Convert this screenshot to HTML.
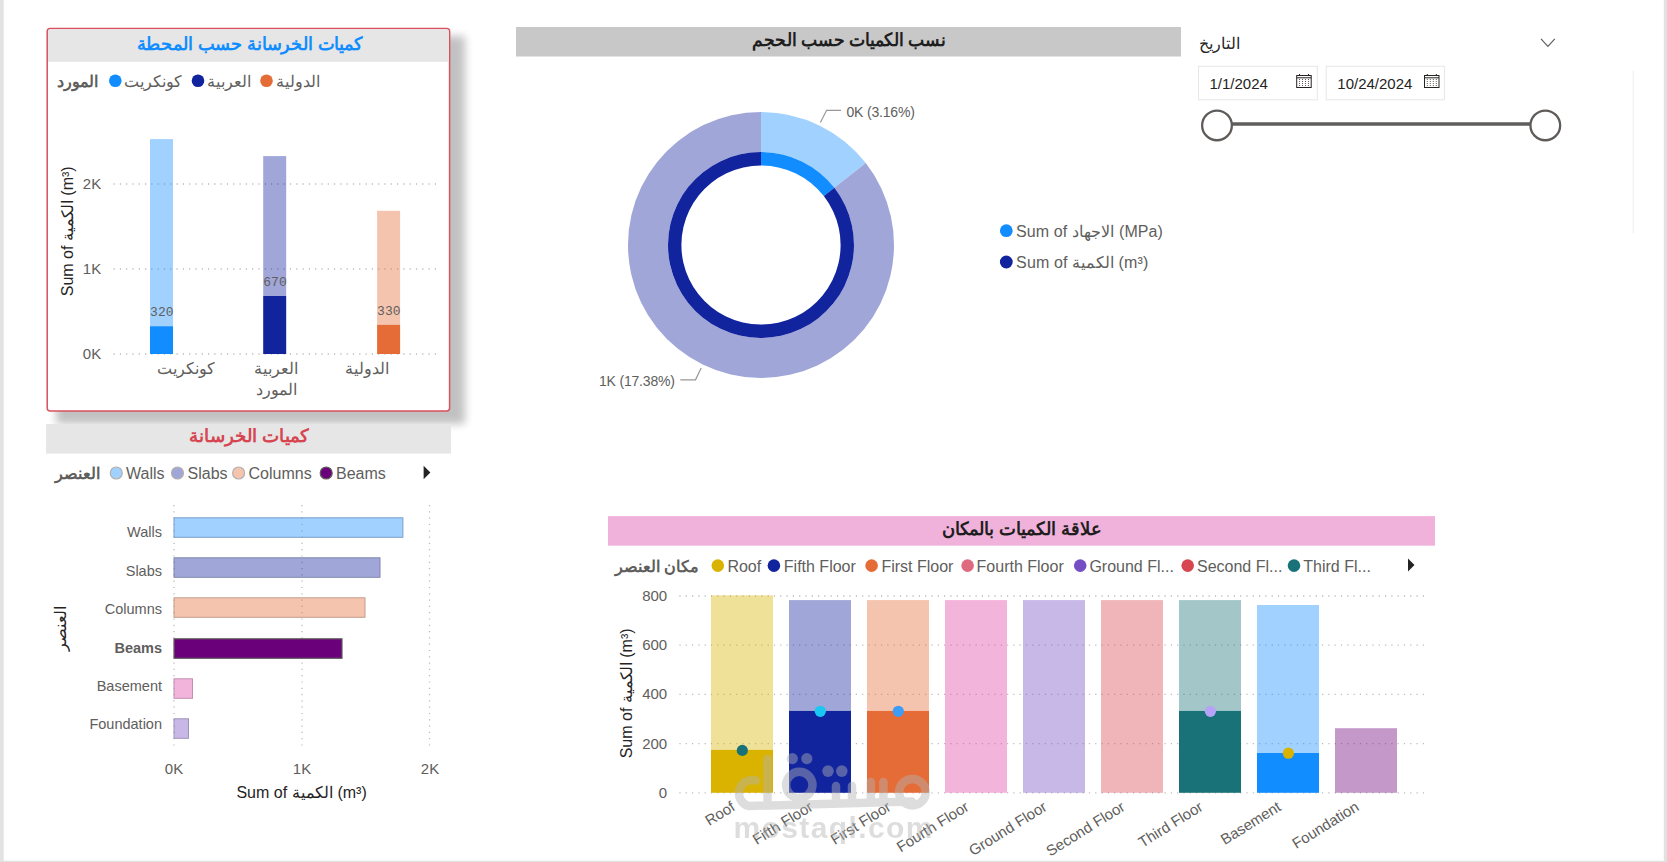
<!DOCTYPE html>
<html><head><meta charset="utf-8">
<style>
html,body{margin:0;padding:0;width:1667px;height:862px;overflow:hidden;background:#fff;}
body{font-family:"Liberation Sans",sans-serif;}
svg{position:absolute;left:0;top:0;}
text{font-family:"Liberation Sans",sans-serif;}
.lg{fill:#605E5C;font-size:16px;}
.ax{fill:#605E5C;font-size:15px;}
.mono{font-family:"Liberation Mono",monospace;font-size:13px;fill:#605E5C;}
.grid{stroke:#000;stroke-opacity:0.27;stroke-width:1.3;stroke-dasharray:1.2,5.1;}
</style></head><body>
<svg width="1667" height="862" viewBox="0 0 1667 862">
<defs>
<filter id="sh" x="-20%" y="-20%" width="140%" height="140%"><feGaussianBlur stdDeviation="4.3"/></filter>
</defs>
<!-- page edges -->
<rect x="0" y="0" width="3.7" height="862" fill="#E3E3E3"/>
<rect x="1663.8" y="0" width="3.2" height="862" fill="#E1E1E1"/>
<rect x="0" y="860.8" width="1667" height="1.2" fill="#E1E1E1"/>

<!-- ===== Card 1 ===== -->
<rect x="56" y="36" width="409" height="388" fill="#000" opacity="0.24" filter="url(#sh)"/>
<rect x="47.2" y="28.5" width="402.4" height="382.5" rx="3" fill="#fff" stroke="#D9505E" stroke-width="1.5"/>
<path d="M48 61.7 V31.5 Q48 29.3 50.5 29.3 H446.5 Q448.8 29.3 448.8 31.5 V61.7 Z" fill="#E6E6E6"/>
<text x="249.8" y="49.5" text-anchor="middle" font-size="18" font-weight="bold" fill="#118DFF" textLength="226.4" lengthAdjust="spacingAndGlyphs">كميات الخرسانة حسب المحطة</text>
<!-- legend -->
<text x="98" y="86.5" text-anchor="end" class="lg" font-weight="bold">المورد</text>
<circle cx="115.3" cy="80.8" r="6.3" fill="#118DFF"/>
<text x="182" y="86.5" text-anchor="end" class="lg">كونكريت</text>
<circle cx="198" cy="80.8" r="6.3" fill="#12239E"/>
<text x="251.3" y="86.5" text-anchor="end" class="lg">العربية</text>
<circle cx="266.5" cy="80.8" r="6.3" fill="#E66C37"/>
<text x="320" y="86.5" text-anchor="end" class="lg">الدولية</text>
<text x="101.2" y="189.2" text-anchor="end" class="ax">2K</text>
<text x="101.2" y="274.2" text-anchor="end" class="ax">1K</text>
<text x="101.2" y="359.2" text-anchor="end" class="ax">0K</text>
<!-- bars -->
<g>
<line class="grid" x1="113.5" y1="184" x2="440" y2="184"/>
<line class="grid" x1="113.5" y1="269" x2="440" y2="269"/>
<line class="grid" x1="113.5" y1="354" x2="440" y2="354"/>
</g>
<rect x="150" y="139.1" width="23" height="187.1" fill="#118DFF" fill-opacity="0.4"/>
<rect x="150" y="326.2" width="23" height="27.8" fill="#118DFF"/>
<rect x="263.2" y="156.1" width="23" height="139.9" fill="#12239E" fill-opacity="0.4"/>
<rect x="263.2" y="296" width="23" height="58" fill="#12239E"/>
<rect x="377.1" y="210.8" width="23" height="114" fill="#E66C37" fill-opacity="0.4"/>
<rect x="377.1" y="324.8" width="23" height="29.2" fill="#E66C37"/>
<text x="161.8" y="315.8" text-anchor="middle" class="mono">320</text>
<text x="275" y="285.6" text-anchor="middle" class="mono">670</text>
<text x="388.8" y="315.2" text-anchor="middle" class="mono">330</text>
<text x="186" y="374" text-anchor="middle" class="lg" font-size="15">كونكريت</text>
<text x="276" y="374" text-anchor="middle" class="lg" font-size="15">العربية</text>
<text x="367" y="374" text-anchor="middle" class="lg" font-size="15">الدولية</text>
<text x="276" y="395" text-anchor="middle" class="lg" font-size="15">المورد</text>
<text transform="translate(73,231.3) rotate(-90)" text-anchor="middle" font-size="16" fill="#252423">Sum of الكمية (m³)</text>

<!-- ===== Card 2 ===== -->
<rect x="46.1" y="424" width="404.9" height="29.6" fill="#E6E6E6"/>
<text x="249.1" y="441.5" text-anchor="middle" font-size="18" font-weight="bold" fill="#D64550" textLength="119.6" lengthAdjust="spacingAndGlyphs">كميات الخرسانة</text>
<text x="99.7" y="479" text-anchor="end" class="lg" font-weight="bold">العنصر</text>
<circle cx="116.3" cy="473" r="6" fill="#A0D1FF" stroke="#B3B0AD" stroke-width="1.2"/>
<text x="126" y="479" class="lg">Walls</text>
<circle cx="177.5" cy="473" r="6" fill="#A0A7D8" stroke="#B3B0AD" stroke-width="1.2"/>
<text x="187.5" y="479" class="lg">Slabs</text>
<circle cx="238.6" cy="473" r="6" fill="#F5C4AF" stroke="#B3B0AD" stroke-width="1.2"/>
<text x="248.5" y="479" class="lg">Columns</text>
<circle cx="326.2" cy="473" r="6" fill="#6B007B" stroke="#605E5C" stroke-width="1.2"/>
<text x="336" y="479" class="lg">Beams</text>
<path d="M423.6 465.8 L430.4 472.5 L423.6 479.2 Z" fill="#252423"/>
<g>
<line class="grid" x1="174" y1="505" x2="174" y2="750"/>
<line class="grid" x1="302" y1="505" x2="302" y2="750"/>
<line class="grid" x1="429.5" y1="505" x2="429.5" y2="750"/>
</g>
<rect x="174" y="517.8" width="228.9" height="19.5" fill="#118DFF" fill-opacity="0.4" stroke="#7C9FCB" stroke-width="1"/>
<rect x="174" y="557.8" width="206" height="19.5" fill="#12239E" fill-opacity="0.4" stroke="#8086AD" stroke-width="1"/>
<rect x="174" y="597.8" width="191" height="19.5" fill="#E66C37" fill-opacity="0.4" stroke="#C49D8C" stroke-width="1"/>
<rect x="174" y="638.8" width="168" height="19.5" fill="#6B007B" stroke="#605E5C" stroke-width="1.2"/>
<rect x="174" y="678.8" width="18.5" height="19.5" fill="#E044A7" fill-opacity="0.4" stroke="#C290B0" stroke-width="1"/>
<rect x="174" y="718.8" width="14.5" height="19.5" fill="#744EC2" fill-opacity="0.4" stroke="#9F93B9" stroke-width="1"/>
<g class="ax" text-anchor="end" style="font-size:14.5px">
<text x="162" y="537">Walls</text>
<text x="162" y="576">Slabs</text>
<text x="162" y="614">Columns</text>
<text x="162" y="652.5" font-weight="bold">Beams</text>
<text x="162" y="691">Basement</text>
<text x="162" y="729">Foundation</text>
</g>
<g class="ax" text-anchor="middle">
<text x="174" y="774">0K</text>
<text x="302" y="774">1K</text>
<text x="430" y="774">2K</text>
</g>
<text x="301.6" y="798.2" text-anchor="middle" font-size="16" fill="#252423" textLength="130.4">Sum of الكمية (m³)</text>
<text transform="translate(66,628) rotate(-90)" text-anchor="middle" font-size="16" fill="#252423">العنصر</text>

<!-- ===== Donut ===== -->
<rect x="516" y="27" width="665" height="29.5" fill="#C8C8C8"/>
<text x="848.9" y="46" text-anchor="middle" font-size="18" font-weight="bold" fill="#1E1E1E" textLength="193" lengthAdjust="spacingAndGlyphs">نسب الكميات حسب الحجم</text>
<g id="donut">
<path d="M761.00 112.00 A133 133 0 0 1 865.81 163.12 L834.29 187.74 A93 93 0 0 0 761.00 152.00 Z" fill="#A0D1FF"/>
<path d="M865.81 163.12 A133 133 0 1 1 761.00 112.00 L761.00 152.00 A93 93 0 1 0 834.29 187.74 Z" fill="#A0A7D8"/>
<path d="M761.00 152.00 A93 93 0 0 1 834.38 187.87 L823.81 196.10 A79.6 79.6 0 0 0 761.00 165.40 Z" fill="#118DFF"/>
<path d="M834.38 187.87 A93 93 0 1 1 761.00 152.00 L761.00 165.40 A79.6 79.6 0 1 0 823.81 196.10 Z" fill="#12239E"/>
</g>
<text x="846.5" y="116.6" font-size="14" fill="#605E5C" textLength="68.4">0K (3.16%)</text>
<text x="599" y="385.8" font-size="14" fill="#605E5C" textLength="75.9">1K (17.38%)</text>
<polyline points="820.4,122.4 826.6,110.3 841,110.3" fill="none" stroke="#9A9896" stroke-width="1.2"/>
<polyline points="680.3,379.8 695.5,379.8 701.2,367.9" fill="none" stroke="#9A9896" stroke-width="1.2"/>
<circle cx="1006.3" cy="230.7" r="6.4" fill="#118DFF"/>
<text x="1016.1" y="236.6" class="lg" textLength="146.8">Sum of الاجهاد (MPa)</text>
<circle cx="1006.3" cy="262" r="6.4" fill="#12239E"/>
<text x="1016.1" y="267.9" class="lg" textLength="132.2">Sum of الكمية (m³)</text>

<!-- ===== Date slicer ===== -->
<text x="1240.4" y="49" text-anchor="end" font-size="16" fill="#252423">التاريخ</text>
<polyline points="1541,38.9 1547.9,46.3 1554.8,38.9" fill="none" stroke="#605E5C" stroke-width="1.2"/>
<rect x="1198.5" y="66.3" width="118.8" height="33.5" fill="#fff" stroke="#E6E6E6" stroke-width="1"/>
<rect x="1326.2" y="66.3" width="118.4" height="33.5" fill="#fff" stroke="#E6E6E6" stroke-width="1"/>
<text x="1209.5" y="89.1" font-size="15" fill="#252423">1/1/2024</text>
<text x="1337.3" y="89.1" font-size="15" fill="#252423">10/24/2024</text>
<g fill="none" stroke="#252423" stroke-width="1">
<g id="cal">
<rect x="1296.7" y="75.5" width="14.5" height="12"/>
<line x1="1296.7" y1="77.8" x2="1311.2" y2="77.8"/>
<line x1="1299.5" y1="74" x2="1299.5" y2="76"/>
<line x1="1308.5" y1="74" x2="1308.5" y2="76"/>
<g stroke-dasharray="1,1" stroke="#605E5C">
<line x1="1299.5" y1="79" x2="1299.5" y2="86"/>
<line x1="1302.5" y1="79" x2="1302.5" y2="86"/>
<line x1="1305.5" y1="79" x2="1305.5" y2="86"/>
<line x1="1308.5" y1="79" x2="1308.5" y2="86"/>
</g>
</g>
<use href="#cal" transform="translate(127.8,0)"/>
</g>
<line x1="1217" y1="124" x2="1545" y2="124" stroke="#605E5C" stroke-width="3.5"/>
<circle cx="1217" cy="125.4" r="14.85" fill="#fff" stroke="#5F5B59" stroke-width="2.3"/>
<circle cx="1545.3" cy="125.4" r="14.85" fill="#fff" stroke="#5F5B59" stroke-width="2.3"/>
<line x1="1633.2" y1="71" x2="1633.2" y2="233" stroke="#EDEDED" stroke-width="1"/>

<!-- ===== Bottom right chart ===== -->
<rect x="608" y="516.1" width="827" height="29.6" fill="#F0B2DA"/>
<text x="1021.7" y="534.8" text-anchor="middle" font-size="18" font-weight="bold" fill="#1E1E1E" textLength="160.2" lengthAdjust="spacingAndGlyphs">علاقة الكميات بالمكان</text>
<text x="699.4" y="571.7" text-anchor="end" class="lg" font-weight="bold">مكان العنصر</text>
<circle cx="717.8" cy="565.6" r="6.3" fill="#D9B300"/><text x="727.4" y="571.5" class="lg">Roof</text>
<circle cx="773.9" cy="565.6" r="6.3" fill="#12239E"/><text x="783.8" y="571.5" class="lg">Fifth Floor</text>
<circle cx="871.6" cy="565.6" r="6.3" fill="#E66C37"/><text x="881.4" y="571.5" class="lg">First Floor</text>
<circle cx="967.6" cy="565.6" r="6.3" fill="#DE6A7F"/><text x="976.6" y="571.5" class="lg">Fourth Floor</text>
<circle cx="1080.2" cy="565.6" r="6.3" fill="#744EC2"/><text x="1089.4" y="571.5" class="lg">Ground Fl...</text>
<circle cx="1187.7" cy="565.6" r="6.3" fill="#D64550"/><text x="1197" y="571.5" class="lg">Second Fl...</text>
<circle cx="1294" cy="565.6" r="6.3" fill="#197278"/><text x="1303.3" y="571.5" class="lg">Third Fl...</text>
<path d="M1408 558.6 L1414.5 565.1 L1408 571.6 Z" fill="#252423"/>
<g class="ax" text-anchor="end">
<text x="667.2" y="601">800</text>
<text x="667.2" y="650.2">600</text>
<text x="667.2" y="699.4">400</text>
<text x="667.2" y="748.6">200</text>
<text x="667.2" y="797.8">0</text>
</g>
<g>
<line class="grid" x1="679.4" y1="596" x2="1425" y2="596"/>
<line class="grid" x1="679.4" y1="645.2" x2="1425" y2="645.2"/>
<line class="grid" x1="679.4" y1="694.4" x2="1425" y2="694.4"/>
<line class="grid" x1="679.4" y1="743.6" x2="1425" y2="743.6"/>
<line class="grid" x1="679.4" y1="792.8" x2="1425" y2="792.8"/>
</g>
<g fill-opacity="0.4">
<rect x="711" y="595.3" width="62" height="154.5" fill="#D9B300"/>
<rect x="789" y="600.1" width="62" height="110.8" fill="#12239E"/>
<rect x="867" y="600.1" width="62" height="110.8" fill="#E66C37"/>
<rect x="945" y="600.1" width="62" height="192.7" fill="#E044A7"/>
<rect x="1023" y="600.1" width="62" height="192.7" fill="#744EC2"/>
<rect x="1101" y="600.1" width="62" height="192.7" fill="#D64550"/>
<rect x="1179" y="600.1" width="62" height="110.8" fill="#197278"/>
<rect x="1257" y="605" width="62" height="148" fill="#118DFF"/>
<rect x="1335" y="728.2" width="62" height="64.6" fill="#6B007B"/>
</g>
<rect x="711" y="749.8" width="62" height="43" fill="#D9B300"/>
<rect x="789" y="710.9" width="62" height="81.9" fill="#12239E"/>
<rect x="867" y="710.9" width="62" height="81.9" fill="#E66C37"/>
<rect x="1179" y="710.9" width="62" height="81.9" fill="#197278"/>
<rect x="1257" y="753" width="62" height="39.8" fill="#118DFF"/>
<circle cx="742.3" cy="750.4" r="5.6" fill="#197278"/>
<circle cx="820.3" cy="711.3" r="5.6" fill="#1AC6F2"/>
<circle cx="898.3" cy="711.3" r="5.6" fill="#3D9CF5"/>
<circle cx="1210.4" cy="711.3" r="5.6" fill="#B6A3F7"/>
<circle cx="1288.4" cy="753.2" r="5.6" fill="#D9B300"/>
<g class="ax" text-anchor="end">
<text transform="translate(736,809.5) rotate(-32)">Roof</text>
<text transform="translate(814,809.5) rotate(-32)">Fifth Floor</text>
<text transform="translate(892,809.5) rotate(-32)">First Floor</text>
<text transform="translate(970,809.5) rotate(-32)">Fourth Floor</text>
<text transform="translate(1048,809.5) rotate(-32)">Ground Floor</text>
<text transform="translate(1126,809.5) rotate(-32)">Second Floor</text>
<text transform="translate(1204,809.5) rotate(-32)">Third Floor</text>
<text transform="translate(1282,809.5) rotate(-32)">Basement</text>
<text transform="translate(1360,809.5) rotate(-32)">Foundation</text>
</g>
<text transform="translate(631.5,693.4) rotate(-90)" text-anchor="middle" font-size="16" fill="#252423">Sum of الكمية (m³)</text>

<!-- ===== Watermark ===== -->
<g opacity="0.44" fill="#B4B4B4" stroke="#B4B4B4">
<g fill="none" stroke-width="8.5" stroke-linecap="round">
<path d="M756 780.5 A13 13 0 0 0 748.5 806 L912 801.5"/>
<line x1="767.5" y1="759" x2="767.5" y2="800"/>
<line x1="836" y1="786" x2="836" y2="800"/>
<line x1="852" y1="786" x2="852" y2="800"/>
<line x1="870.8" y1="782" x2="870.8" y2="800"/>
<line x1="883.4" y1="782" x2="883.4" y2="800"/>
<circle cx="799.3" cy="785" r="13.2"/>
<circle cx="912.4" cy="792.2" r="13.3"/>
</g>
<g stroke="none">
<circle cx="792.3" cy="758.6" r="5.6"/>
<circle cx="806.8" cy="758.6" r="5.6"/>
<circle cx="828" cy="771.1" r="5.8"/>
<circle cx="841.8" cy="771.1" r="5.8"/>
<text x="733.5" y="838" font-size="30" font-weight="bold" textLength="199" lengthAdjust="spacing">mostaql.com</text>
</g>
</g>
</svg>
</body></html>
